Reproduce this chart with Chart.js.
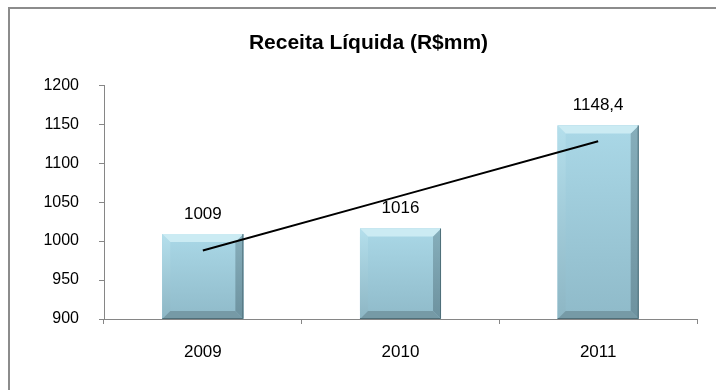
<!DOCTYPE html>
<html>
<head>
<meta charset="utf-8">
<script src="https://cdn.jsdelivr.net/npm/chart.js@4"></script>
<style>
body { margin: 0; background: #fff; overflow: hidden; }
#frame { position: absolute; left: 8px; top: 7px; width: 730px; height: 400px; border-left: 2px solid #8c8c8c; border-top: 2px solid #8c8c8c; }
#wrap { position: absolute; left: 0; top: 0; width: 716px; height: 390px; }
</style>
</head>
<body>
<div id="frame"></div>
<div id="wrap"><canvas id="receita"></canvas></div>
<script>
var anos = ['2009', '2010', '2011']
var receita = [1009, 1016, 1148.4]
// linha de tendencia
var tendencia = [988, 1058, 1128]
var ticks_y = [900, 950, 1000, 1050, 1100, 1150, 1200]

var fonte = '"Liberation Sans", Arial, sans-serif'
var cinza = '#868686'

function poly(ctx, pts, color) {
    ctx.beginPath()
    ctx.moveTo(pts[0][0], pts[0][1])
    for (let i = 1; i < pts.length; i++) ctx.lineTo(pts[i][0], pts[i][1])
    ctx.closePath()
    ctx.fillStyle = color
    ctx.fill()
}

// barras com efeito de chanfro
const bevel = {
    id: 'bevel',
    afterDatasetDraw(chart, args) {
        if (args.meta.type !== 'bar') return
        const ctx = chart.ctx
        args.meta.data.forEach(bar => {
            const l = bar.x - bar.width / 2, r = bar.x + bar.width / 2
            const t = bar.y, b = Math.min(bar.base, chart.chartArea.bottom)
            const e = 8
            ctx.save()
            let g = ctx.createLinearGradient(0, t, 0, b)
            g.addColorStop(0, '#aad8e7')
            g.addColorStop(1, '#8fbac9')
            ctx.fillStyle = g
            ctx.fillRect(l, t, r - l, b - t)
            let gl = ctx.createLinearGradient(0, t, 0, b)
            gl.addColorStop(0, '#b4dfec')
            gl.addColorStop(1, '#8db6c4')
            poly(ctx, [[l, t], [l + e, t + e], [l + e, b - e], [l, b]], gl)
            let gr = ctx.createLinearGradient(0, t, 0, b)
            gr.addColorStop(0, '#86aebb')
            gr.addColorStop(1, '#6d929f')
            poly(ctx, [[r, t], [r, b], [r - e, b - e], [r - e, t + e]], gr)
            poly(ctx, [[l, t], [r, t], [r - e, t + e], [l + e, t + e]], '#cbebf3')
            poly(ctx, [[l, b], [r, b], [r - e, b - e], [l + e, b - e]], '#769aa6')
            ctx.strokeStyle = '#4f6f79'
            ctx.lineWidth = 1
            ctx.beginPath()
            ctx.moveTo(r - 0.5, t)
            ctx.lineTo(r - 0.5, b - 0.5)
            ctx.lineTo(l, b - 0.5)
            ctx.stroke()
            ctx.restore()
        })
    }
}

// rotulos de valor acima das barras
const rotulos = {
    id: 'rotulos',
    afterDatasetsDraw(chart) {
        const ctx = chart.ctx
        const meta = chart.getDatasetMeta(1)
        ctx.save()
        ctx.font = '17px ' + fonte
        ctx.fillStyle = '#000'
        ctx.textAlign = 'center'
        ctx.textBaseline = 'middle'
        meta.data.forEach((bar, i) => {
            ctx.fillText(String(receita[i]).replace('.', ','), bar.x, bar.y - 20)
        })
        ctx.restore()
    }
}

const ctx = document.getElementById('receita').getContext('2d')
const myChart = new Chart(ctx, {
    data: {
        labels: anos,
        datasets: [{
            type: 'line',
            label: 'Tendência',
            data: tendencia,
            borderColor: '#000',
            borderWidth: 2,
            pointRadius: 0,
            order: 0
        }, {
            type: 'bar',
            label: 'Receita Líquida',
            data: receita,
            backgroundColor: '#a5d3e2',
            barPercentage: 0.41,
            categoryPercentage: 1,
            order: 1
        }]
    },
    options: {
        responsive: true,
        maintainAspectRatio: false,
        animation: false,
        layout: { padding: { left: 40, right: 19, top: 0, bottom: 0 } },
        plugins: {
            legend: { display: false },
            tooltip: { enabled: false },
            title: {
                display: true,
                text: 'Receita Líquida (R$mm)',
                color: '#000',
                font: { family: fonte, size: 21, weight: 'bold' },
                padding: { top: 31, bottom: 29 }
            }
        },
        scales: {
            x: {
                afterFit: s => { s.height = 71 },
                border: { display: true, color: cinza, width: 1 },
                grid: { drawOnChartArea: false, drawTicks: true, tickLength: 5, color: cinza },
                ticks: { color: '#000', font: { family: fonte, size: 17 }, padding: 18 }
            },
            y: {
                min: ticks_y[0],
                max: ticks_y[ticks_y.length - 1],
                afterFit: s => { s.width = 64 },
                border: { display: true, color: cinza, width: 1 },
                grid: { drawOnChartArea: false, drawTicks: true, tickLength: 5, color: cinza },
                ticks: {
                    stepSize: ticks_y[1] - ticks_y[0],
                    color: '#000',
                    font: { family: fonte, size: 16 },
                    padding: 20,
                    callback: v => String(v)
                }
            }
        }
    },
    plugins: [bevel, rotulos]
})
</script>
</body>
</html>
